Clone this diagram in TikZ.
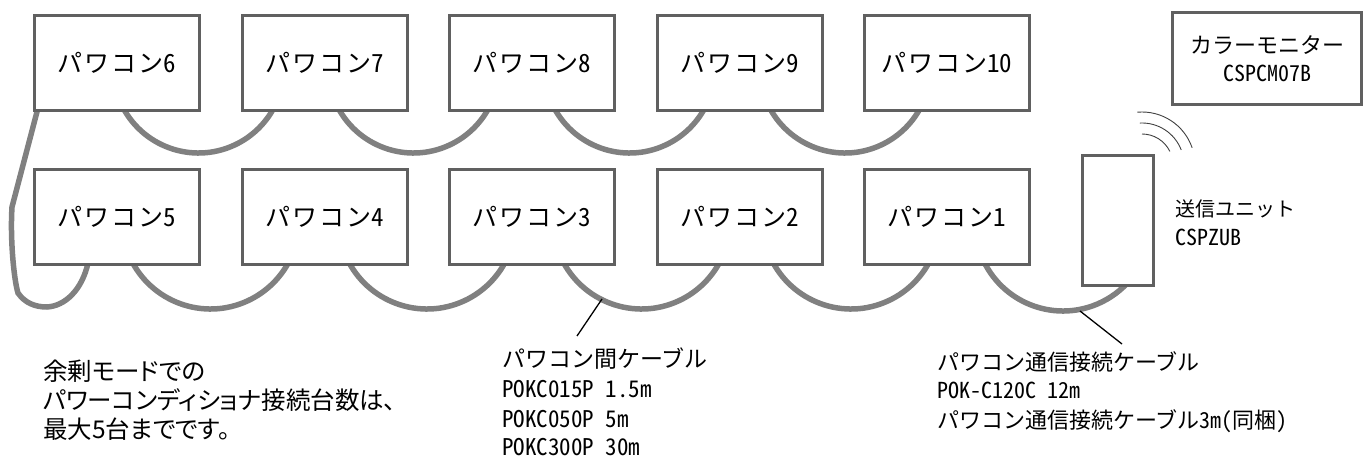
\documentclass[tikz,border=0pt]{standalone}
\usepackage{fontspec}
\setmainfont{Noto Sans CJK JP}
\newfontfamily\jpbox[LetterSpace=8]{Noto Sans CJK JP}
\newfontfamily\jphw[CharacterWidth=Half]{Noto Sans CJK JP}
\newfontfamily\jpprop[CharacterWidth=AlternateProportional]{Noto Sans CJK JP}
\usetikzlibrary{backgrounds}
\definecolor{bx}{RGB}{96,96,96}
\definecolor{cb}{RGB}{128,128,128}
\newcommand\cab[4]{\draw[cable] (#1) ++(#2:#4 pt) arc[start angle=#2, end angle=#3, radius=#4 pt];}
\begin{document}
\begin{tikzpicture}[x=1pt,y=-1pt,
  pc/.style={draw=bx, line width=3pt, fill=white, minimum width=165pt, minimum height=95pt, inner sep=0pt, font=\jpbox\fontsize{25}{28}\selectfont},
  unitbox/.style={draw=bx, line width=3pt, fill=white, minimum width=71pt, minimum height=130pt, inner sep=0pt},
  monbox/.style={draw=bx, line width=3pt, fill=white, minimum width=189pt, minimum height=92pt, inner sep=0pt, align=center, font=\fontsize{22}{28}\selectfont},
  cable/.style={draw=cb, line width=5.5pt},
  leader/.style={draw=black, line width=1.3pt},
  wave/.style={draw=black!75, line width=0.9pt},
  txt/.style={inner sep=0pt, anchor=base west, font=\fontsize{23}{29}\selectfont}]
\useasboundingbox (0,0) rectangle (1370,457);
% power conditioners
\node[pc] (p6)  at (117,63)   {パワコン{\jphw 6}};
\node[pc] (p7)  at (324.5,63) {パワコン{\jphw 7}};
\node[pc] (p8)  at (532,63)   {パワコン{\jphw 8}};
\node[pc] (p9)  at (739.5,63) {パワコン{\jphw 9}};
\node[pc] (p10) at (946.5,63) {パワコン{\jphw 10}};
\node[pc] (p5)  at (117,217)   {パワコン{\jphw 5}};
\node[pc] (p4)  at (324.5,217) {パワコン{\jphw 4}};
\node[pc] (p3)  at (532,217)   {パワコン{\jphw 3}};
\node[pc] (p2)  at (739.5,217) {パワコン{\jphw 2}};
\node[pc] (p1)  at (946.5,217) {パワコン{\jphw 1}};
\node[unitbox] (unit) at (1118,220.5) {};
\node[monbox] (mon) at (1267,58.5) {カラーモニター\\{\jphw CSPCM07B}};
% cables
\begin{scope}[on background layer]
  \coordinate (c67) at (198.5,67.5);
  \coordinate (c78) at (413.5,67.5);
  \coordinate (c89) at (629.5,67.5);
  \coordinate (c910) at (845,67.5);
  \coordinate (c54) at (210.5,220.3);
  \coordinate (c43) at (427,220.3);
  \coordinate (c32) at (641.5,220.3);
  \coordinate (c21) at (851,220.3);
  \coordinate (c1u) at (1063,223);
  \cab{c67}{205}{335}{85.5}
  \cab{c78}{205}{335}{85.5}
  \cab{c89}{205}{335}{85.5}
  \cab{c910}{205}{335}{85.5}
  \cab{c54}{205}{335}{88.7}
  \cab{c43}{205}{335}{88.7}
  \cab{c32}{205}{335}{88.7}
  \cab{c21}{205}{335}{88.7}
  \cab{c1u}{203}{320}{88}
  \draw[cable] ([xshift=5pt,yshift=4pt]p6.south west) -- (12,207)
     .. controls (10,240) and (14,280) .. (18,293)
     .. controls (25,303) and (35,307) .. (47,307)
     .. controls (65,306) and (82,290) .. ([xshift=55pt,yshift=3pt]p5.south west);
\end{scope}
% wireless waves
\coordinate (w) at (1142,165);
\draw[wave] (w) ++(95:53pt) arc[start angle=95, end angle=19, radius=53pt];
\draw[wave] (w) ++(93:42pt) arc[start angle=93, end angle=21, radius=42pt];
\draw[wave] (w) ++(90:31pt) arc[start angle=90, end angle=26, radius=31pt];
% leaders
\coordinate (la) at (602,299); \coordinate (lb) at (577,336);
\draw[leader] (la) -- (lb);
\coordinate (lc) at (1080,311); \coordinate (ld) at (1122,344);
\draw[leader] (lc) -- (ld);
% texts
\node[txt, font=\fontsize{20}{24}\selectfont] (ua) at (1175,216) {送信ユニット};
\node[txt, font=\jphw\fontsize{22}{24}\selectfont] (ub) at (1175,245) {CSPZUB};
\node[txt] (ka) at (502,367) {パワコン間ケーブル};
\node[txt, font=\jphw\fontsize{23}{29}\selectfont] (kb) at (502,397) {POKC015P 1.5m};
\node[txt, font=\jphw\fontsize{23}{29}\selectfont] (kc) at (502,427) {POKC050P 5m};
\node[txt, font=\jphw\fontsize{23}{29}\selectfont] (kd) at (502,455) {POKC300P 30m};
\node[txt, font=\fontsize{22}{29}\selectfont] (ta) at (937,370) {パワコン通信接続ケーブル};
\node[txt, font=\jphw\fontsize{22}{29}\selectfont] (tb) at (937,398.5) {POK-C120C 12m};
\node[txt, font=\fontsize{22}{29}\selectfont] (tc) at (937,428) {パワコン通信接続ケーブル{\jphw 3m(}同梱{\jphw )}};
\node[txt, font=\jpprop\fontsize{24.5}{29}\selectfont] (na) at (43,380) {余剰モードでの};
\node[txt, font=\jpprop\fontsize{24.5}{29}\selectfont] (nb) at (43,409) {パワーコンディショナ接続台数は、};
\node[txt, font=\jpprop\fontsize{24.5}{29}\selectfont] (nc) at (43,438) {最大5台までです。};
\end{tikzpicture}
\end{document}
